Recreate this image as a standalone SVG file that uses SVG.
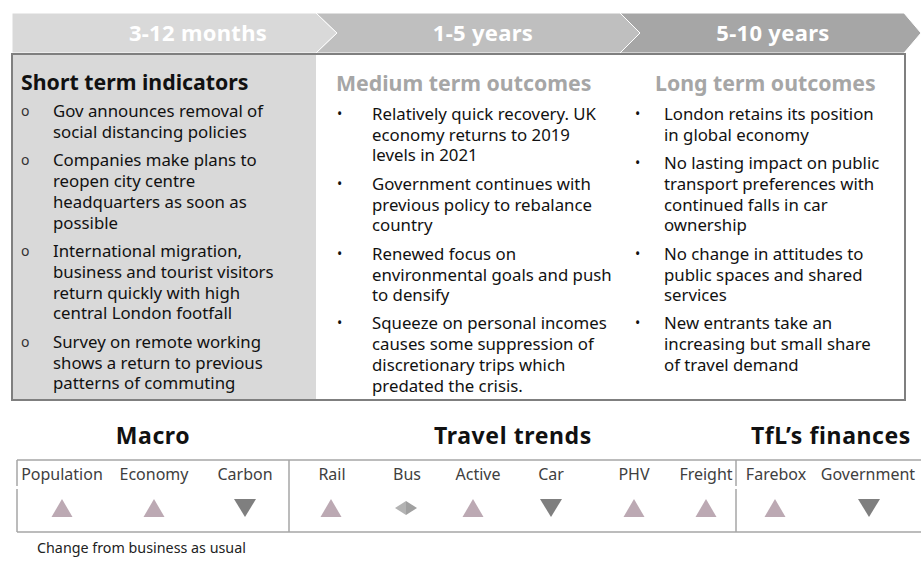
<svg xmlns="http://www.w3.org/2000/svg" width="921" height="561" viewBox="0 0 921 561">
<style>
text{font-family:"Noto Sans","Open Sans","DejaVu Sans",sans-serif}
.hd{font-size:22px;font-weight:700;fill:#ffffff;text-anchor:middle;letter-spacing:0.3px}
.t1{font-size:21.3px;font-weight:700;fill:#111111}
.t2{font-size:21.3px;font-weight:700;fill:#a6a6a6}
.b{font-size:16.8px;fill:#111111}
.ob{font-size:14px;fill:#333333}
.db{font-size:14px;fill:#111111}
.sec{font-size:23px;font-weight:700;fill:#111111;text-anchor:middle;letter-spacing:0.6px}
.lb{font-size:16px;fill:#404040;text-anchor:middle}
.note{font-size:14.3px;fill:#222222}
.up{fill:#bca9b3}
.dn{fill:#7f7f7f}
.ln{stroke:#a6a6a6;stroke-width:1.5;fill:none}
</style>
<rect width="921" height="561" fill="#ffffff"/>
<g id="header">
<polygon points="12,13 316,13 337,33 316,53 12,53" fill="#d9d9d9" stroke="#ffffff" stroke-width="1"/>
<polygon points="316,13 620,13 640,33 620,53 316,53 337,33" fill="#bfbfbf" stroke="#ffffff" stroke-width="1"/>
<polygon points="620,13 904,13 921,33 904,53 620,53 640,33" fill="#a6a6a6" stroke="#ffffff" stroke-width="1"/>
<text class="hd" x="198" y="41">3-12 months</text>
<text class="hd" x="483" y="41">1-5 years</text>
<text class="hd" x="773" y="41">5-10 years</text>
</g>
<g id="panel">
<rect x="12" y="54" width="304" height="346" fill="#d9d9d9"/>
<rect x="12" y="54" width="893" height="346" fill="none" stroke="#7f7f7f" stroke-width="2"/>
</g>
<g id="short-term">
<text class="t1" x="21" y="90">Short term indicators</text>
<text class="ob" x="21" y="116">o</text>
<text class="b" x="53" y="117">Gov announces removal of</text>
<text class="b" x="53" y="137.8">social distancing policies</text>
<text class="ob" x="21" y="165">o</text>
<text class="b" x="53" y="166.2">Companies make plans to</text>
<text class="b" x="53" y="187">reopen city centre</text>
<text class="b" x="53" y="207.8">headquarters as soon as</text>
<text class="b" x="53" y="228.6">possible</text>
<text class="ob" x="21" y="256">o</text>
<text class="b" x="53" y="257">International migration,</text>
<text class="b" x="53" y="277.8">business and tourist visitors</text>
<text class="b" x="53" y="298.6">return quickly with high</text>
<text class="b" x="53" y="319.4">central London footfall</text>
<text class="ob" x="21" y="347">o</text>
<text class="b" x="53" y="347.8">Survey on remote working</text>
<text class="b" x="53" y="368.6">shows a return to previous</text>
<text class="b" x="53" y="389.4">patterns of commuting</text>
</g>
<g id="medium-term">
<text class="t2" x="336" y="91">Medium term outcomes</text>
<text class="db" x="337" y="119">•</text>
<text class="b" x="372" y="120">Relatively quick recovery. UK</text>
<text class="b" x="372" y="141">economy returns to 2019</text>
<text class="b" x="372" y="161">levels in 2021</text>
<text class="db" x="337" y="189">•</text>
<text class="b" x="372" y="190">Government continues with</text>
<text class="b" x="372" y="211">previous policy to rebalance</text>
<text class="b" x="372" y="231">country</text>
<text class="db" x="337" y="259">•</text>
<text class="b" x="372" y="260">Renewed focus on</text>
<text class="b" x="372" y="281">environmental goals and push</text>
<text class="b" x="372" y="301">to densify</text>
<text class="db" x="337" y="328">•</text>
<text class="b" x="372" y="329">Squeeze on personal incomes</text>
<text class="b" x="372" y="350">causes  some suppression of</text>
<text class="b" x="372" y="371">discretionary trips which</text>
<text class="b" x="372" y="392">predated the crisis.</text>
</g>
<g id="long-term">
<text class="t2" x="655" y="91">Long term outcomes</text>
<text class="db" x="635" y="119">•</text>
<text class="b" x="664" y="120">London retains its position</text>
<text class="b" x="664" y="141">in global economy</text>
<text class="db" x="635" y="168">•</text>
<text class="b" x="664" y="169">No lasting impact on public</text>
<text class="b" x="664" y="190">transport preferences with</text>
<text class="b" x="664" y="210.5">continued falls in car</text>
<text class="b" x="664" y="231">ownership</text>
<text class="db" x="635" y="259">•</text>
<text class="b" x="664" y="260">No change in attitudes to</text>
<text class="b" x="664" y="281">public spaces and shared</text>
<text class="b" x="664" y="301">services</text>
<text class="db" x="635" y="328">•</text>
<text class="b" x="664" y="329">New entrants take an</text>
<text class="b" x="664" y="350">increasing but small share</text>
<text class="b" x="664" y="371">of travel demand</text>
</g>
<g id="table-lines">
<line class="ln" x1="17" y1="460" x2="921" y2="460"/>
<line class="ln" x1="17" y1="532" x2="921" y2="532"/>
<line class="ln" x1="17" y1="460" x2="17" y2="486"/>
<line class="ln" x1="17" y1="489" x2="17" y2="532"/>
<line class="ln" x1="289" y1="460" x2="289" y2="532"/>
<line class="ln" x1="736" y1="460" x2="736" y2="486"/>
<line class="ln" x1="736" y1="489" x2="736" y2="532"/>
</g>
<g id="macro">
<text class="sec" x="153" y="444">Macro</text>
<g id="population"><text class="lb" x="62" y="480">Population</text><polygon class="up" points="51.5,517 72.5,517 62,499"/></g>
<g id="economy"><text class="lb" x="154" y="480">Economy</text><polygon class="up" points="143.5,517 164.5,517 154,499"/></g>
<g id="carbon"><text class="lb" x="245" y="480">Carbon</text><polygon class="dn" points="234,499 256,499 245,517"/></g>
</g>
<g id="travel">
<text class="sec" x="513" y="444">Travel trends</text>
<g id="rail"><text class="lb" x="332" y="480">Rail</text><polygon class="up" points="320.5,517 341.5,517 331,499"/></g>
<g id="bus"><text class="lb" x="407" y="480">Bus</text><polygon points="395,508 406,501 406,515" fill="#b3b3b3"/><polygon points="406,501 417,508 406,515" fill="#a0a0a0"/></g>
<g id="active"><text class="lb" x="478" y="480">Active</text><polygon class="up" points="462.5,517 483.5,517 473,499"/></g>
<g id="car"><text class="lb" x="551" y="480">Car</text><polygon class="dn" points="540,499 562,499 551,517"/></g>
<g id="phv"><text class="lb" x="634" y="480">PHV</text><polygon class="up" points="623.5,517 644.5,517 634,499"/></g>
<g id="freight"><text class="lb" x="706" y="480">Freight</text><polygon class="up" points="695.5,517 716.5,517 706,499"/></g>
</g>
<g id="finances">
<text class="sec" x="831" y="444">TfL’s finances</text>
<g id="farebox"><text class="lb" x="776" y="480">Farebox</text><polygon class="up" points="764.5,517 785.5,517 775,499"/></g>
<g id="government"><text class="lb" x="868" y="480">Government</text><polygon class="dn" points="858,499 880,499 869,517"/></g>
</g>
<text class="note" x="37" y="553">Change from business as usual</text>
</svg>
